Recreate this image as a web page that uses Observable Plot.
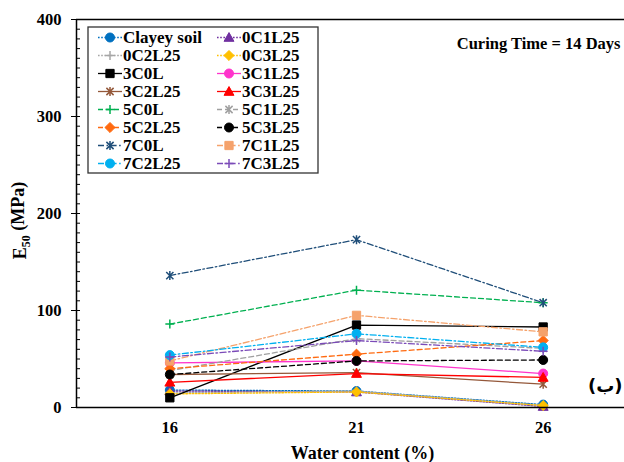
<!DOCTYPE html>
<html>
<head>
<meta charset="utf-8">
<script src="https://cdn.jsdelivr.net/npm/d3@7"></script>
<script src="https://cdn.jsdelivr.net/npm/@observablehq/plot@0.6"></script>
<style>
  html, body { margin: 0; padding: 0; background: #fff; }
  #chart { width: 624px; height: 462px; }
</style>
</head>
<body>
<div id="chart"></div>
<script>
// Water content of the samples (%)
const waterContent = [16, 21, 26];

// Mix designations, in series order
const seriesNames = [
  "Clayey soil", "0C1L25", "0C2L25", "0C3L25",
  "3C0L", "3C1L25", "3C2L25", "3C3L25",
  "5C0L", "5C1L25", "5C2L25", "5C3L25",
  "7C0L", "7C1L25", "7C2L25", "7C3L25"
];

// E50 (MPa) at 16, 21 and 26 % water content, 14 days curing
const clayeySoil = [18, 17, 3];
const mix0C1L25 = [17, 16, 1];
const mix0C2L25 = [15, 17, 2];
const mix0C3L25 = [14, 16, 2];
const mix3C0L   = [10, 85, 83];
const mix3C1L25 = [46, 48, 35];
const mix3C2L25 = [34, 36, 24];
const mix3C3L25 = [26, 35, 31];
const mix5C0L   = [86, 121, 108];
const mix5C1L25 = [38, 71, 61];
const mix5C2L25 = [40, 55, 69];
const mix5C3L25 = [34, 48, 49];
const mix7C0L   = [136, 173, 108];
const mix7C1L25 = [48, 95, 78];
const mix7C2L25 = [54, 76, 62];
const mix7C3L25 = [52, 69, 58];

const seriesValues = [
  clayeySoil, mix0C1L25, mix0C2L25, mix0C3L25,
  mix3C0L, mix3C1L25, mix3C2L25, mix3C3L25,
  mix5C0L, mix5C1L25, mix5C2L25, mix5C3L25,
  mix7C0L, mix7C1L25, mix7C2L25, mix7C3L25
];

const yTicks = [0, 100, 200, 300, 400];
const yMinorTicks = d3.range(0, 401, 10);

// Marker shapes (drawn through d3.path contexts)
const symbols = {
  circle: { draw(c, s) { const r = Math.sqrt(s / Math.PI); c.moveTo(r, 0); c.arc(0, 0, r, 0, 2 * Math.PI); c.closePath(); } },
  square: { draw(c, s) { const r = Math.sqrt(s / Math.PI) * 0.92; c.rect(-r, -r, 2 * r, 2 * r); } },
  triangle: { draw(c, s) { const r = Math.sqrt(s / Math.PI); c.moveTo(0, -r * 1.1); c.lineTo(r * 1.1, r * 0.85); c.lineTo(-r * 1.1, r * 0.85); c.closePath(); } },
  diamond: { draw(c, s) { const r = Math.sqrt(s / Math.PI) * 1.12; c.moveTo(0, -r); c.lineTo(r, 0); c.lineTo(0, r); c.lineTo(-r, 0); c.closePath(); } },
  plus: { draw(c, s) { const r = Math.sqrt(s / Math.PI); c.moveTo(-r, 0); c.lineTo(r, 0); c.moveTo(0, -r); c.lineTo(0, r); } },
  star: { draw(c, s) { const r = Math.sqrt(s / Math.PI); const d = r * 0.8; c.moveTo(-d, -d); c.lineTo(d, d); c.moveTo(d, -d); c.lineTo(-d, d); c.moveTo(0, -r); c.lineTo(0, r); } }
};
const openSymbols = new Set(["plus", "star"]);

const dashes = { dotted: "1.6,1.6", solid: null, dashed: "5,3", dashdot: "6,2.5,1.6,2.5" };

// Per-series appearance
const seriesColors = [
  "#0070C0", "#7030A0", "#A6A6A6", "#FFC000",
  "#000000", "#FF33CC", "#94583A", "#FF0000",
  "#00B050", "#A0A0A0", "#FF6A10", "#000000",
  "#1F4E79", "#F5A26B", "#00B0F0", "#7B4BB8"
];
const seriesDash = [
  "dotted", "dotted", "dotted", "dotted",
  "solid", "solid", "solid", "solid",
  "dashed", "dashed", "dashed", "dashed",
  "dashdot", "dashdot", "dashdot", "dashdot"
];
const seriesMarker = [
  "circle", "triangle", "plus", "diamond",
  "square", "circle", "star", "triangle",
  "plus", "star", "diamond", "circle",
  "star", "square", "circle", "plus"
];

const rows = seriesNames.map((name, i) =>
  waterContent.map((w, j) => ({ series: name, water: w, e50: seriesValues[i][j] }))
);

const serif = "'Liberation Serif', 'Times New Roman', serif";

const seriesMarks = seriesNames.flatMap((name, i) => {
  const color = seriesColors[i];
  const open = openSymbols.has(seriesMarker[i]);
  return [
    Plot.line(rows[i], {
      x: "water", y: "e50", stroke: color, strokeWidth: 1.3,
      strokeDasharray: dashes[seriesDash[i]]
    }),
    Plot.dot(rows[i], {
      x: "water", y: "e50", symbol: symbols[seriesMarker[i]], r: 4.5,
      fill: open ? "none" : color, stroke: color, strokeWidth: open ? 1.5 : 1
    })
  ];
});

const chart = Plot.plot({
  width: 624,
  height: 462,
  marginLeft: 76,
  marginRight: 0,
  marginTop: 19,
  marginBottom: 55,
  style: { fontFamily: serif, fontSize: "16px", fontWeight: "bold", color: "#000", background: "#fff" },
  x: { domain: [13.5, 28.5], range: [76, 636] },
  y: { domain: [0, 400] },
  marks: [
    Plot.axisY({ ticks: yMinorTicks, tickSize: 4, dx: 4, tickFormat: () => "", label: null }),
    Plot.axisY({ ticks: yTicks, tickSize: 9, dx: 4, tickPadding: 10, tickFormat: d => d, label: null, fontSize: 16.5, fontWeight: "bold" }),
    Plot.axisX({ ticks: waterContent, tickSize: 0, tickPadding: 14, tickFormat: d => d, label: null, fontSize: 16.5, fontWeight: "bold" }),
    ...seriesMarks,
    Plot.ruleX([13.5], { stroke: "#000", strokeWidth: 1.5 }),
    Plot.ruleY([0, 400], { stroke: "#000", strokeWidth: 1.5 }),
    Plot.text(["Water content (%)"], { frameAnchor: "bottom", textAnchor: "middle", lineAnchor: "middle", dx: 12, dy: 46, fontSize: 18, fontWeight: "bold" }),
    Plot.text(["E50 (MPa)"], { frameAnchor: "left", textAnchor: "middle", lineAnchor: "middle", rotate: -90, dx: -56, dy: 7, fontSize: 18, fontWeight: "bold" }),
    Plot.text(["Curing Time = 14 Days"], { frameAnchor: "top-right", textAnchor: "end", lineAnchor: "middle", dx: -4, dy: 24, fontSize: 16.5, fontWeight: "bold" }),
    Plot.text(["\u200E(ب)\u200E"], { frameAnchor: "bottom-right", textAnchor: "end", lineAnchor: "middle", dx: -2, dy: -21, fontSize: 18, fontWeight: "bold", fontFamily: "'DejaVu Sans', sans-serif" })
  ]
});

const svg = d3.select(chart);

// Subscript on the E50 axis title
svg.selectAll("text").filter(function () { return this.textContent === "E50 (MPa)"; })
  .each(function () {
    const t = d3.select(this);
    t.text(null);
    t.append("tspan").text("E");
    t.append("tspan").attr("font-size", "12px").attr("dy", "0.3em").text("50");
    t.append("tspan").attr("dy", "-0.3em").text("\u00A0(MPa)");
  });

// Legend box, two columns filled row by row
const legend = svg.append("g")
  .attr("font-family", serif).attr("font-weight", "bold").attr("font-size", 17)
  .attr("text-anchor", "start");
legend.append("rect")
  .attr("x", 88).attr("y", 27).attr("width", 230).attr("height", 146)
  .attr("fill", "#fff").attr("stroke", "#333").attr("stroke-width", 1.3);
seriesNames.forEach((name, i) => {
  const row = Math.floor(i / 2), col = i % 2;
  const y = 37.5 + row * 18;
  const x0 = col ? 217 : 98;
  const color = seriesColors[i];
  const open = openSymbols.has(seriesMarker[i]);
  legend.append("line")
    .attr("x1", x0).attr("x2", x0 + 24).attr("y1", y).attr("y2", y)
    .attr("stroke", color).attr("stroke-width", 1.3)
    .attr("stroke-dasharray", dashes[seriesDash[i]]);
  legend.append("path")
    .attr("transform", `translate(${x0 + 12},${y})`)
    .attr("d", d3.symbol(symbols[seriesMarker[i]], Math.PI * 4.5 * 4.5)())
    .attr("fill", open ? "none" : color).attr("stroke", color)
    .attr("stroke-width", open ? 1.5 : 1);
  legend.append("text")
    .attr("x", x0 + 25).attr("y", y).attr("dy", "0.35em")
    .attr("text-anchor", "start")
    .attr("fill", "#000").text(name);
});

document.getElementById("chart").appendChild(chart);
</script>
</body>
</html>
